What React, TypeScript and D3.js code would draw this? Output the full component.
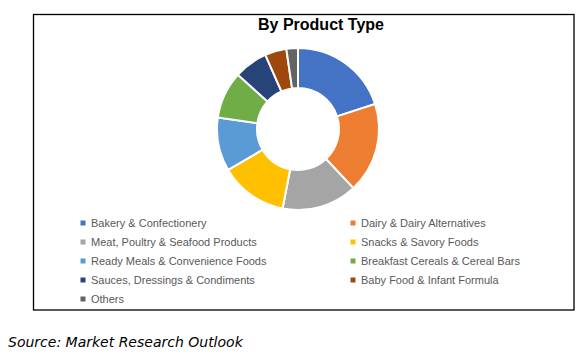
import React from "react";
import * as d3 from "d3";

const categories = [
  "Bakery & Confectionery",
  "Dairy & Dairy Alternatives",
  "Meat, Poultry & Seafood Products",
  "Snacks & Savory Foods",
  "Ready Meals & Convenience Foods",
  "Breakfast Cereals & Cereal Bars",
  "Sauces, Dressings & Condiments",
  "Baby Food & Infant Formula",
  "Others",
];
const values = [20, 18, 15, 13.5, 10.7, 9.4, 6.7, 4.3, 2.3];
const colors = [
  "#4472C4", "#ED7D31", "#A5A5A5", "#FFC000", "#5B9BD5",
  "#70AD47", "#264478", "#9E480E", "#636363",
];
const title = "By Product Type";
const source = "Source: Market Research Outlook";

export default function App() {
  const W = 585, H = 356;
  const cx = 298, cy = 129, rOuter = 81, rInner = 41;
  const pie = d3.pie<number>().sort(null).value((d) => d)(values);
  const arc = d3.arc<d3.PieArcDatum<number>>().innerRadius(rInner).outerRadius(rOuter);
  const col = d3.scaleOrdinal<string, string>().domain(categories).range(colors);
  const legX = [83, 353];
  const legY = d3.scaleLinear().domain([0, 1]).range([223, 242]);
  return (
    <div style={{ position: "absolute", left: 0, top: 0 }}>
      <svg width={W} height={H} style={{ display: "block" }}>
        <rect x={0} y={0} width={W} height={H} fill="#fff" />
        <rect x={33.5} y={14.5} width={540.5} height={295.5} fill="#fff" stroke="#000" strokeWidth={1.3} />
        <text x={321} y={30} textAnchor="middle" fontFamily="Liberation Sans, Arial, sans-serif" fontWeight="bold" fontSize={16} fill="#000">
          {title}
        </text>
        <g transform={`translate(${cx},${cy})`}>
          {pie.map((p, i) => (
            <path key={i} d={arc(p) || ""} fill={col(categories[i])} stroke="#fff" strokeWidth={2} />
          ))}
        </g>
        {categories.map((c, i) => {
          const x = legX[i % 2];
          const y = legY(Math.floor(i / 2));
          return (
            <g key={c}>
              <rect x={x - 2.5} y={y - 2.5} width={5} height={5} fill={col(c)} />
              <text x={x + 8} y={y} dy="0.35em" fontFamily="Liberation Sans, Arial, sans-serif" fontSize={11} fill="#595959">
                {c}
              </text>
            </g>
          );
        })}
        <text x={8} y={347} fontFamily="DejaVu Sans, Verdana, sans-serif" fontStyle="italic" fontSize={14} fill="#000">
          {source}
        </text>
      </svg>
    </div>
  );
}
